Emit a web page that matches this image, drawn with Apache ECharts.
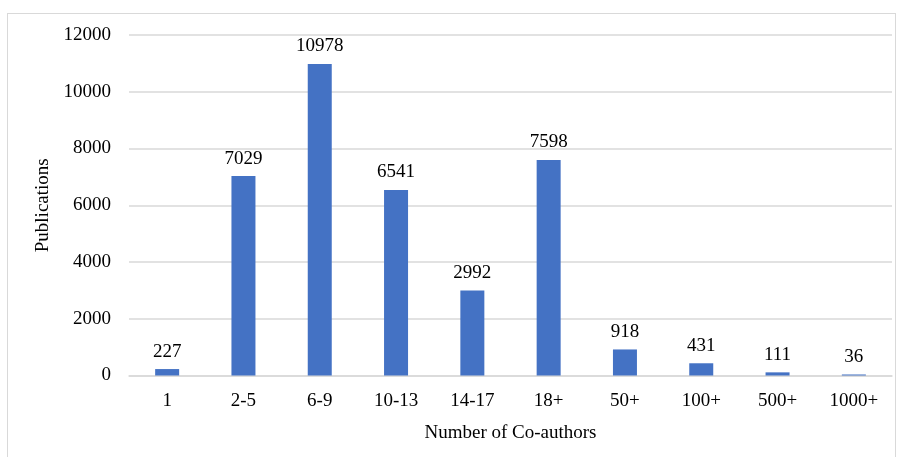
<!DOCTYPE html>
<html>
<head>
<meta charset="utf-8">
<script src="https://cdn.jsdelivr.net/npm/echarts@6/dist/echarts.min.js"></script>
<style>
  html, body { margin: 0; padding: 0; background: #fff; }
  #frame { position: absolute; left: 7px; top: 13px; width: 889px; height: 460px; border: 1px solid #d9d9d9; box-sizing: border-box; }
  #chart { position: absolute; left: 0; top: 0; width: 899px; height: 457px; }
</style>
</head>
<body>
<div id="frame"></div>
<div id="chart"></div>
<script>
// Publications by number of co-authors
const categories = ['1', '2-5', '6-9', '10-13', '14-17', '18+', '50+', '100+', '500+', '1000+'];
const publications = [227, 7029, 10978, 6541, 2992, 7598, 918, 431, 111, 36];

const font = '"Liberation Serif", "Times New Roman", serif';
const chart = echarts.init(document.getElementById('chart'), null, { renderer: 'canvas' });
chart.setOption({
  animation: false,
  textStyle: { fontFamily: font },
  grid: { left: 129, right: 7, top: 35, bottom: 81.5, containLabel: false },
  xAxis: {
    type: 'category',
    data: categories,
    name: 'Number of Co-authors',
    nameLocation: 'middle',
    nameGap: 48,
    nameTextStyle: { fontFamily: font, fontSize: 19, color: '#000' },
    axisLine: { lineStyle: { color: '#d9d9d9', width: 1.5 } },
    axisTick: { show: false },
    axisLabel: { fontFamily: font, fontSize: 19, color: '#000', margin: 16 }
  },
  yAxis: {
    type: 'value',
    min: 0,
    max: 12000,
    interval: 2000,
    name: 'Publications',
    nameLocation: 'middle',
    nameGap: 73,
    nameRotate: 90,
    nameTextStyle: { fontFamily: font, fontSize: 19, color: '#000' },
    axisLine: { show: false },
    axisTick: { show: false },
    axisLabel: { fontFamily: font, fontSize: 19, color: '#000', margin: 18, formatter: v => String(v) },
    splitLine: { lineStyle: { color: '#d9d9d9', width: 1.5 } }
  },
  series: [{
    type: 'bar',
    data: publications,
    barWidth: 24,
    itemStyle: { color: '#4472C4' },
    label: {
      show: true,
      position: 'top',
      distance: 8,
      fontFamily: font,
      fontSize: 19,
      color: '#000'
    }
  }]
});
</script>
</body>
</html>
